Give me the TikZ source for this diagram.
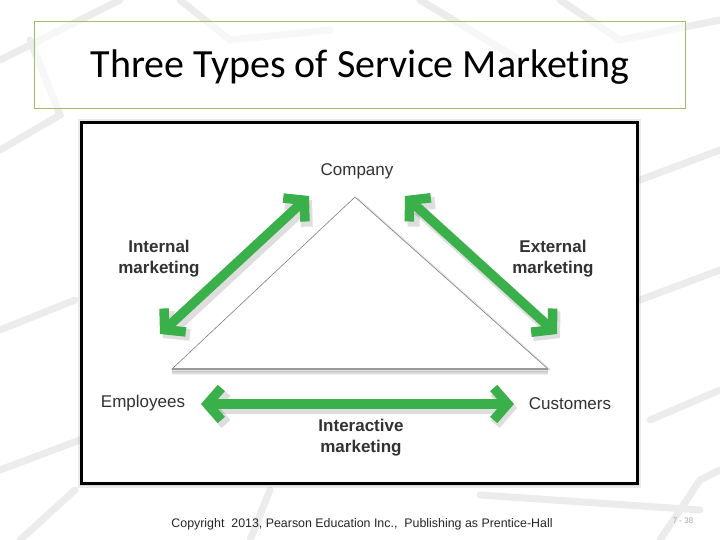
\documentclass[tikz,border=0pt]{standalone}
\usepackage{fontspec}
\setmainfont{Liberation Sans}
\newfontfamily\titlefont[Ligatures={NoCommon,NoDiscretionary}]{Carlito}
\usetikzlibrary{arrows.meta}
\definecolor{arrowgreen}{RGB}{58,176,74}
\definecolor{boxgreen}{RGB}{160,190,100}
\definecolor{bgline}{RGB}{236,236,236}
\definecolor{labelgray}{RGB}{50,50,50}
\tikzset{
  bgstroke/.style={draw=bgline, line width=7bp, line cap=round},
  greenarrow/.style={draw=arrowgreen, line width=9.5bp,
    {Straight Barb[sharp,length=14bp,width=32bp,line width=9.5bp]}-{Straight Barb[sharp,length=14bp,width=32bp,line width=9.5bp]}},
  arrowshadow/.style={draw=black, opacity=0.13, line width=12bp,
    {Straight Barb[sharp,length=14bp,width=32bp,line width=12bp]}-{Straight Barb[sharp,length=14bp,width=32bp,line width=12bp]}},
  plainlabel/.style={font=\fontsize{17bp}{21bp}\selectfont, text=labelgray},
  boldlabel/.style={font=\fontsize{17bp}{21bp}\selectfont\bfseries, text=labelgray, align=center},
}
\begin{document}
\begin{tikzpicture}[x=1bp,y=-1bp]
\useasboundingbox (0,0) rectangle (720,540);
\fill[white] (0,0) rectangle (720,540);
% faint background pattern
\draw[bgstroke] (0,60) -- (120,0);
\draw[bgstroke] (0,150) -- (60,115) -- (30,40);
\draw[bgstroke] (0,330) -- (75,300);
\draw[bgstroke] (0,470) -- (80,440);
\draw[bgstroke] (20,540) -- (75,490);
\draw[bgstroke] (640,180) -- (720,150);
\draw[bgstroke] (640,300) -- (720,270);
\draw[bgstroke] (650,420) -- (720,390);
\draw[bgstroke] (660,540) -- (700,480) -- (720,470);
\draw[bgstroke] (250,540) -- (270,490);
\draw[bgstroke] (420,0) -- (520,60);
\draw[bgstroke] (560,0) -- (620,40) -- (720,20);
\draw[bgstroke] (180,0) -- (230,40) -- (330,30);
\draw[bgstroke] (480,495) -- (700,510);
% title box
\node[draw=boxgreen, line width=1bp, fill=white, fill opacity=0.6, text opacity=1,
      minimum width=650bp, minimum height=87bp, inner sep=0pt] (titlebox) at (360,65.5) {};
\node[font=\titlefont\fontsize{40bp}{44bp}\selectfont] (title) at (360,67) {Three Types of Service Marketing};
% diagram frame with shadow
\fill[black, opacity=0.08] (78,119) rectangle (641,488);
\fill[black, opacity=0.08] (80,121) rectangle (639,486);
\node[draw=black, line width=3bp, fill=white, minimum width=555bp, minimum height=360bp, inner sep=0pt] (frame) at (359.5,303) {};
% triangle
\coordinate (A) at (355,197);
\coordinate (B) at (172,369);
\coordinate (C) at (548,369);
\foreach \o/\op in {5/0.06,4/0.08,3/0.1,2/0.12} {
  \draw[black, opacity=\op, line width=2bp] ([yshift=-\o bp]B) -- ([yshift=-\o bp]C);
}
\draw[black, opacity=0.1, line width=2bp] ([xshift=2bp,yshift=-1bp]A) -- ([xshift=2bp,yshift=-1bp]C);
\filldraw[fill=white, draw=gray, line width=0.6bp] (A) -- (B) -- (C) -- cycle;
\draw[gray!80, line width=1.6bp] (B) -- (C);
% nodes
\node[plainlabel] (company) at (357,171) {Company};
\node[plainlabel] (employees) at (143,403) {Employees};
\node[plainlabel] (customers) at (570,404) {Customers};
\node[boldlabel] (internal) at (159,259) {Internal\\marketing};
\node[boldlabel] (external) at (553,259) {External\\marketing};
\node[boldlabel] (interactive) at (361,438) {Interactive\\marketing};
% arrow end points
\coordinate (i1) at (160,334);
\coordinate (i2) at (309,196);
\coordinate (e1) at (405,196);
\coordinate (e2) at (557,334);
\coordinate (r1) at (201,404);
\coordinate (r2) at (514,404);
% shadows
\draw[arrowshadow] ([xshift=3bp,yshift=-4bp]i1) -- ([xshift=3bp,yshift=-4bp]i2);
\draw[arrowshadow] ([xshift=3bp,yshift=-4bp]e1) -- ([xshift=3bp,yshift=-4bp]e2);
\draw[arrowshadow] ([xshift=3bp,yshift=-4bp]r1) -- ([xshift=3bp,yshift=-4bp]r2);
% arrows
\draw[greenarrow] (i1) -- (i2);
\draw[greenarrow] (e1) -- (e2);
\draw[greenarrow] (r1) -- (r2);
% footer
\node[font=\fontsize{12.4bp}{15bp}\selectfont, text=black!85] (footer) at (362,524) {Copyright\ \ 2013, Pearson Education Inc.,\ \ Publishing as Prentice-Hall};
\node[font=\fontsize{8bp}{10bp}\selectfont, text=gray!70] (page) at (683,521) {7 - 38};
\end{tikzpicture}
\end{document}
